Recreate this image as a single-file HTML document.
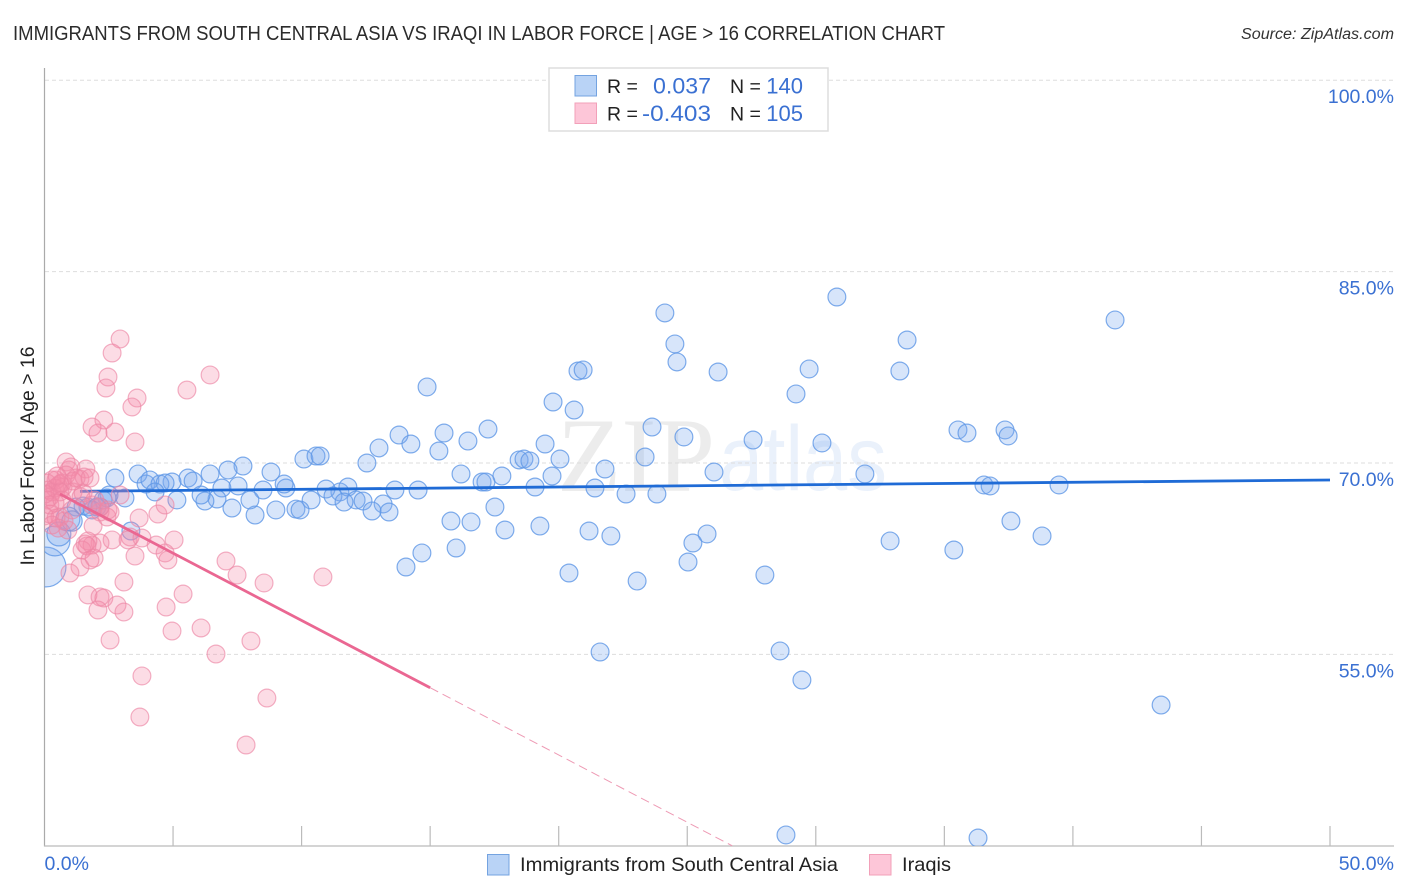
<!DOCTYPE html>
<html lang="en">
<head>
<meta charset="utf-8">
<title>Immigrants from South Central Asia vs Iraqi in Labor Force Correlation Chart</title>
<style>
html,body{margin:0;padding:0;background:#fff;width:1406px;height:892px;overflow:hidden}
svg{display:block;font-family:"Liberation Sans",sans-serif}
</style>
</head>
<body>
<svg id="chart" xmlns="http://www.w3.org/2000/svg" width="1406" height="892" viewBox="0 0 1406 892">
  <defs><clipPath id="plot-clip"><rect x="44.5" y="60" width="1350" height="786"/></clipPath></defs>
  <text x="13" y="40" font-size="20" fill="#2b2b2b" textLength="932" lengthAdjust="spacingAndGlyphs">IMMIGRANTS FROM SOUTH CENTRAL ASIA VS IRAQI IN LABOR FORCE | AGE &gt; 16 CORRELATION CHART</text>
  <text x="1241" y="39" font-size="15.5" font-style="italic" fill="#333" textLength="153" lengthAdjust="spacingAndGlyphs">Source: ZipAtlas.com</text>
  <g id="watermark">
    <text x="557" y="491" font-family="'Liberation Serif',serif" font-size="106" fill="#000" fill-opacity="0.075" textLength="158" lengthAdjust="spacingAndGlyphs">ZIP</text>
    <text x="719" y="490" font-size="92" fill="#5a8fe0" fill-opacity="0.13" textLength="168" lengthAdjust="spacingAndGlyphs">atlas</text>
  </g>
  <g id="grid"></g>
  <g id="axes"></g>
  <g id="blue-points" clip-path="url(#plot-clip)"></g>
  <g id="blue-trend"></g>
  <g id="pink-points" clip-path="url(#plot-clip)"></g>
  <g id="pink-trend"></g>
  <text transform="translate(34,456) rotate(-90)" font-size="19" fill="#222" text-anchor="middle" textLength="219" lengthAdjust="spacingAndGlyphs">In Labor Force | Age &gt; 16</text>
  <g>
    <rect x="549" y="68" width="279" height="63" fill="#fff" stroke="#ddd" stroke-width="1.5"/>
    <rect x="575" y="75.5" width="21.5" height="20.5" fill="#b9d3f6" stroke="#74a3e0" stroke-width="1"/>
    <rect x="575" y="103" width="21.5" height="20.5" fill="#fdc6d8" stroke="#f2a0b9" stroke-width="1"/>
    <text x="607" y="93" font-size="19.5" fill="#222">R =</text>
    <text x="653" y="93.5" font-size="22" fill="#3a70d2" textLength="58" lengthAdjust="spacingAndGlyphs">0.037</text>
    <text x="730" y="93" font-size="19.5" fill="#222">N =</text>
    <text x="803" y="93.5" font-size="22" fill="#3a70d2" text-anchor="end">140</text>
    <text x="607" y="120.5" font-size="19.5" fill="#222">R =</text>
    <text x="642" y="121" font-size="22" fill="#3a70d2" textLength="69" lengthAdjust="spacingAndGlyphs">-0.403</text>
    <text x="730" y="120.5" font-size="19.5" fill="#222">N =</text>
    <text x="803" y="121" font-size="22" fill="#3a70d2" text-anchor="end">105</text>
  </g>
  <g>
    <rect x="487.5" y="854.5" width="21.5" height="20.5" fill="#b9d3f6" stroke="#74a3e0" stroke-width="1"/>
    <text x="520" y="871" font-size="19.5" fill="#222" textLength="318" lengthAdjust="spacingAndGlyphs">Immigrants from South Central Asia</text>
    <rect x="869.5" y="854.5" width="21.5" height="20.5" fill="#fdc6d8" stroke="#f2a0b9" stroke-width="1"/>
    <text x="902" y="871" font-size="19.5" fill="#222" textLength="49" lengthAdjust="spacingAndGlyphs">Iraqis</text>
  </g>
</svg>
<script>
var yTickValues = [100, 85, 70, 55];
var yTickLabels = ["100.0%", "85.0%", "70.0%", "55.0%"];
var xTickValues = [0, 5, 10, 15, 20, 25, 30, 35, 40, 45, 50];
var xEndValues = [0, 50];
var xEndLabels = ["0.0%", "50.0%"];

var blueX = [30.82,24.13,41.64,33.55,24.52,24.60,26.20,29.74,33.27,20.75,20.95,14.88,29.23,19.78,20.60,23.63,17.25,24.87,30.24,27.56,35.53,35.88,37.36,37.48,13.79,14.25,15.54,13.01,16.47,15.34,19.47,23.36,20.05,10.09,10.56,10.72,12.54,7.72,7.14,18.46,18.65,18.88,8.81,6.44,3.64,2.74,21.80,16.20,17.79,26.04,31.91,19.74,17.02,17.17,19.08,21.41,14.53,13.63,22.62,23.82,36.54,36.78,39.46,5.58,4.96,3.95,4.10,4.49,4.69,5.78,8.50,7.53,6.90,9.39,9.32,11.49,11.80,10.95,11.22,10.37,12.12,12.39,11.65,13.17,12.74,13.40,9.78,9.94,9.00,8.19,7.29,7.99,6.71,6.24,6.09,5.15,4.30,3.13,2.51,2.28,2.43,1.69,1.50,2.04,2.16,1.23,1.85,17.52,15.81,16.59,17.91,19.27,21.18,22.03,16.01,14.68,14.06,20.40,23.05,25.77,25.22,25.03,28.02,32.89,35.37,37.59,38.80,21.61,28.61,29.46,43.43,28.84,36.31,3.36];
var blueY = [83.01,81.76,81.21,79.64,79.33,77.92,77.13,77.37,77.21,77.21,77.29,75.96,75.41,74.78,74.15,72.82,72.66,72.04,71.57,71.80,72.59,72.35,72.59,72.12,72.19,71.49,72.35,71.18,71.72,70.94,71.49,70.47,70.31,70.31,70.55,70.55,70.00,69.76,69.45,70.24,70.31,70.16,69.29,69.14,69.14,68.82,69.53,69.14,68.98,69.29,69.14,68.98,68.51,68.51,68.12,68.04,67.88,67.88,67.57,67.57,68.28,68.20,68.28,68.82,68.51,68.35,68.67,68.35,68.43,68.59,67.88,68.20,68.04,68.04,68.35,67.73,68.12,67.96,67.41,67.10,67.10,67.02,66.94,66.79,66.24,66.16,66.39,66.32,66.32,65.92,66.47,67.10,67.18,67.02,67.49,67.10,67.73,67.26,67.49,67.10,67.26,66.55,66.63,66.55,66.55,66.55,66.32,66.55,65.45,65.38,64.75,65.06,64.67,64.28,63.34,62.95,61.85,61.38,60.75,64.44,63.73,62.24,61.22,63.89,63.18,65.45,64.28,55.19,55.27,52.99,51.03,40.85,40.61,64.67];

var blueLargeX = [0.06, 0.41, 0.56, 0.91, 1.07];
var blueLargeY = [61.85, 63.89, 64.44, 65.61, 65.45];
var blueLargeWeight = [5.0, 2.8, 1.8, 1.8, 1.3];

var pinkX = [2.94,2.63,2.47,2.39,3.60,3.40,5.54,6.44,2.31,1.85,2.08,2.74,3.52,0.84,0.95,1.03,1.61,0.84,0.45,0.29,0.53,0.14,0.29,0.41,0.60,0.72,1.11,1.38,1.54,0.68,0.21,0.41,0.10,0.60,0.76,0.21,0,0.45,1.07,1.11,1.42,1.50,2.16,2.43,2.55,1.89,2.16,2.94,4.41,3.68,4.69,0.91,2.63,3.33,2.16,1.85,1.58,1.69,1.46,1.65,3.25,4.34,5.04,3.79,3.52,4.69,4.80,1.93,1.77,1.38,0.99,3.09,7.06,7.49,8.54,10.83,1.69,2.16,2.31,2.82,3.09,2.08,4.73,5.39,2.55,4.96,6.09,6.67,8.03,3.79,8.65,3.71,7.84,0.60,0.10,0.02,0.21,0.68,1.85,1.96,2.47,0.49,1.23,1.77,0.29,0.53];
var pinkY = [79.72,78.62,76.74,75.88,75.09,74.39,75.72,76.90,73.37,72.82,72.35,72.43,71.65,70.08,69.45,69.69,69.53,69.06,68.67,68.67,68.20,67.88,67.73,68.04,68.35,68.12,68.59,68.75,68.90,68.43,67.34,66.87,67.10,65.77,65.45,66.00,65.85,65.69,66.32,67.73,67.34,67.65,66.16,65.77,66.16,65.06,66.55,67.49,66.00,65.69,66.71,64.75,63.97,64.20,63.73,63.57,63.65,63.89,63.18,63.50,63.97,63.57,63.97,64.12,62.71,62.95,62.40,62.55,62.40,61.85,61.38,60.67,62.32,61.22,60.60,61.07,59.66,59.50,59.42,58.87,58.32,58.48,58.71,59.73,56.13,56.83,57.07,55.03,56.05,53.31,51.58,50.09,47.90,67.73,68.43,67.57,66.71,67.10,66.71,67.10,66.32,68.98,68.82,68.82,65.14,64.90];

var blueTrendX = [1.38, 50];
var blueTrendY = [67.78, 68.67];
var pinkTrendSolidX = [0.6, 15];
var pinkTrendSolidY = [67.57, 52.39];
var pinkTrendDashX = [15, 26.75];
var pinkTrendDashY = [52.39, 40];

var SVGNS = "http://www.w3.org/2000/svg";
function xScale(v) { return 44.5 + v * 25.71; }
function yScale(v) { return 463 - (v - 70) * 12.76; }
function radiusFor(w) { return 8.9 * Math.sqrt(w); }
function make(tag, parent, attrs) {
  var el = document.createElementNS(SVGNS, tag);
  for (var k in attrs) { el.setAttribute(k, attrs[k]); }
  parent.appendChild(el);
  return el;
}

var grid = document.getElementById("grid");
var axes = document.getElementById("axes");

yTickValues.forEach(function (v, i) {
  var line = make("line", grid, {x1: 45, x2: 1394, y1: yScale(v), y2: yScale(v), stroke: "#ddd", "stroke-width": 1, "stroke-dasharray": "4 3"});
  
  
  var label = make("text", axes, {x: 1394, y: yScale(v) + 23, "font-size": 19.5, fill: "#3a70d2", "text-anchor": "end"});
  label.textContent = yTickLabels[i];
  
  
});

var yAxisLine = make("line", axes, {x1: 44.5, x2: 44.5, y1: 68, y2: 846.5, stroke: "#aaa", "stroke-width": 1.2});


var xAxisLine = make("line", axes, {x1: 44, x2: 1394, y1: 846, y2: 846, stroke: "#bbb", "stroke-width": 1.2});



xTickValues.forEach(function (v) {
  if (v === 0) { return; }
  var tick = make("line", axes, {x1: xScale(v), x2: xScale(v), y1: 826, y2: 846, stroke: "#bbb", "stroke-width": 1.2});
  
  
});

xEndValues.forEach(function (v, i) {
  var attrs = i === 0
    ? {x: xScale(v), y: 870, "font-size": 19.5, fill: "#3a70d2"}
    : {x: 1394, y: 870, "font-size": 19.5, fill: "#3a70d2", "text-anchor": "end"};
  var label = make("text", axes, attrs);
  label.textContent = xEndLabels[i];
  
  
});

var bluePts = document.getElementById("blue-points");
blueX.forEach(function (x, i) {
  var c = make("circle", bluePts, {cx: xScale(x), cy: yScale(blueY[i]), r: radiusFor(1), fill: "#7aaaf0", "fill-opacity": 0.3, stroke: "#5f97e6", "stroke-opacity": 0.8, "stroke-width": 1.2});
  
  
});
blueLargeX.forEach(function (x, i) {
  var c = make("circle", bluePts, {cx: xScale(x), cy: yScale(blueLargeY[i]), r: radiusFor(blueLargeWeight[i]), fill: "#7aaaf0", "fill-opacity": 0.3, stroke: "#5f97e6", "stroke-opacity": 0.8, "stroke-width": 1.2});
  
  
});

var blueLine = make("line", document.getElementById("blue-trend"), {x1: xScale(blueTrendX[0]), y1: yScale(blueTrendY[0]), x2: xScale(blueTrendX[1]), y2: yScale(blueTrendY[1]), stroke: "#1f6bd6", "stroke-width": 2.8});



var pinkPts = document.getElementById("pink-points");
pinkX.forEach(function (x, i) {
  var c = make("circle", pinkPts, {cx: xScale(x), cy: yScale(pinkY[i]), r: radiusFor(1), fill: "#f58aa8", "fill-opacity": 0.3, stroke: "#ec86a4", "stroke-opacity": 0.65, "stroke-width": 1.2});
  
  
});

var pinkTrend = document.getElementById("pink-trend");
var pinkSolid = make("line", pinkTrend, {x1: xScale(pinkTrendSolidX[0]), y1: yScale(pinkTrendSolidY[0]), x2: xScale(pinkTrendSolidX[1]), y2: yScale(pinkTrendSolidY[1]), stroke: "#ea6792", "stroke-width": 2.8});


var pinkDash = make("line", pinkTrend, {x1: xScale(pinkTrendDashX[0]), y1: yScale(pinkTrendDashY[0]), x2: xScale(pinkTrendDashX[1]), y2: yScale(pinkTrendDashY[1]), stroke: "#ee9ab4", "stroke-width": 1, "stroke-dasharray": "9 5"});


</script>
</body>
</html>
